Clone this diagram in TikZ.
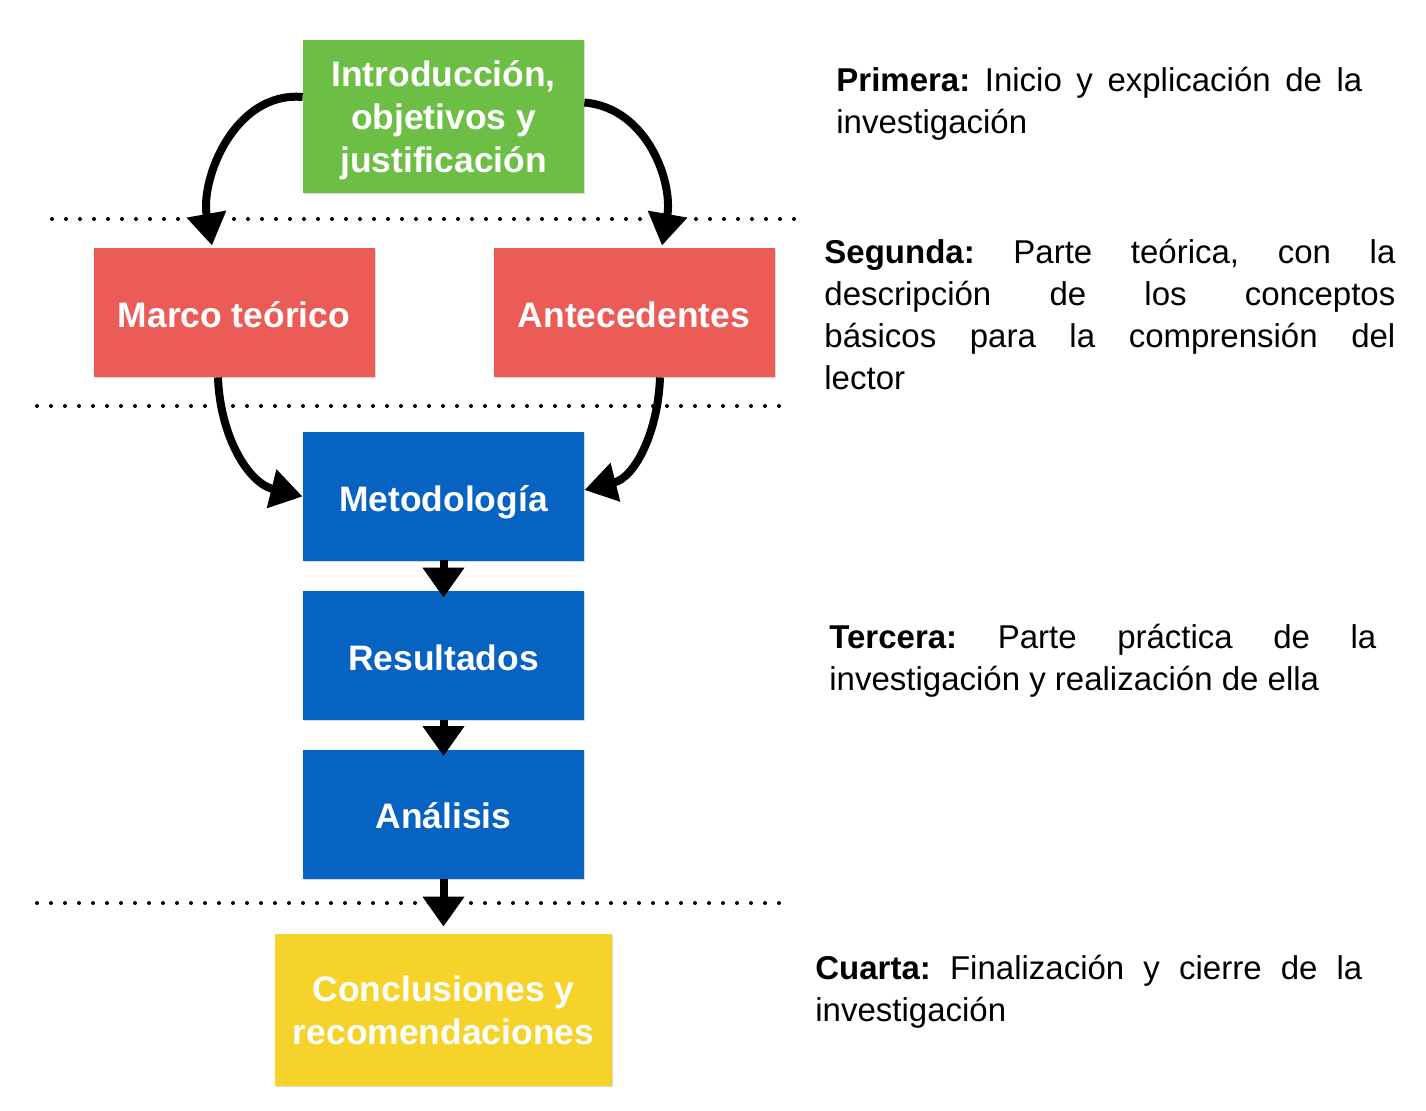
\documentclass[tikz,border=0pt]{standalone}
\usepackage{fontspec}
\setmainfont{Liberation Sans}
\usetikzlibrary{positioning, arrows.meta, shadows}

\definecolor{introgreen}{RGB}{109,190,69}
\definecolor{partred}{RGB}{235,92,86}
\definecolor{methblue}{RGB}{6,99,193}
\definecolor{endyellow}{RGB}{245,211,42}

\tikzset{
  block/.style={rectangle, minimum width=140.5pt, minimum height=64.5pt, inner sep=2pt,
    align=center, text=white, font=\fontsize{17.7}{21.5}\selectfont\bfseries,
    drop shadow={shadow xshift=0.7pt, shadow yshift=-0.7pt, opacity=0.3}},
  oneline/.style={block, text height=14.5pt, text depth=0pt},
  handarrow/.style={-{Triangle[width=19pt,length=16pt]}, line width=4pt},
  shortarrow/.style={-{Triangle[width=20pt,length=15pt]}, line width=4pt},
  divider/.style={line width=2pt, line cap=round, dash pattern=on 0pt off 7pt},
  stage/.style={anchor=base west, inner sep=0pt, align=justify,
    font=\fontsize{16.5}{21}\selectfont\frenchspacing}
}

\begin{document}
\begin{tikzpicture}[x=0.5pt, y=-0.5pt, node distance=100pt, on grid]
			\useasboundingbox (0,0) rectangle (1426,1110);
			
			% separators between the parts
			\draw[divider] (52,219) -- (808,219);
			\draw[divider] (37,406) -- (793,406);
			\draw[divider] (37,903) -- (793,903);
			
			\node[block, fill=introgreen, minimum height=76.5pt, text depth=0pt] (intro) at (443.5,116.5) {Introducción,\\objetivos y\\justificación};
			\node[oneline, fill=partred] (marco) [below left=98pt and 104.75pt of intro] {Marco teórico};
			\node[oneline, fill=partred] (antec) [below right=98pt and 95.25pt of intro] {Antecedentes};
			\node[oneline, fill=methblue] (metodo) [below=190pt of intro] {Metodología};
			\node[oneline, fill=methblue] (result) [below=79.5pt of metodo] {Resultados};
			\node[oneline, fill=methblue] (analisis) [below=79.25pt of result] {Análisis};
			\node[block, fill=endyellow, minimum width=168.5pt, minimum height=76pt] (concl) [below=98pt of analisis] {Conclusiones y\\recomendaciones};
			
			\draw[handarrow] ([yshift=9.75pt]intro.west) to[out=175, in=100] ([xshift=-11pt, yshift=1pt]marco.north);
			\draw[handarrow] ([yshift=7pt]intro.east) to[out=-5, in=80] ([xshift=14pt, yshift=1pt]antec.north);
			\draw[handarrow] ([xshift=-8pt]marco.south) to[out=-88, in=166] (metodo.west);
			\draw[handarrow] ([xshift=13pt]antec.south) to[out=-92, in=14] ([yshift=3.25pt]metodo.east);
			\draw[shortarrow] ([yshift=0.5pt]metodo.south) -- ([yshift=-3.5pt]result.north);
			\draw[shortarrow] (result.south) -- ([yshift=-3.5pt]analisis.north);
			\draw[shortarrow] (analisis.south) -- ([yshift=3.5pt]concl.north);
			
			% description of each part
			\node[stage, text width=263pt] (primera) at (836,91) {\textbf{Primera:} Inicio y explicación de la\linebreak investigación};
			\node[stage, text width=285.5pt] (segunda) at (824,263) {\textbf{Segunda:} Parte teórica, con la\linebreak descripción de los conceptos\linebreak básicos para la comprensión del\linebreak lector};
			\node[stage, text width=273.5pt] (tercera) at (829,648) {\textbf{Tercera:} Parte práctica de la\linebreak investigación y realización de ella};
			\node[stage, text width=273.5pt] (cuarta) at (815,979) {\textbf{Cuarta:} Finalización y cierre de la\linebreak investigación};
		\end{tikzpicture}
\end{document}
